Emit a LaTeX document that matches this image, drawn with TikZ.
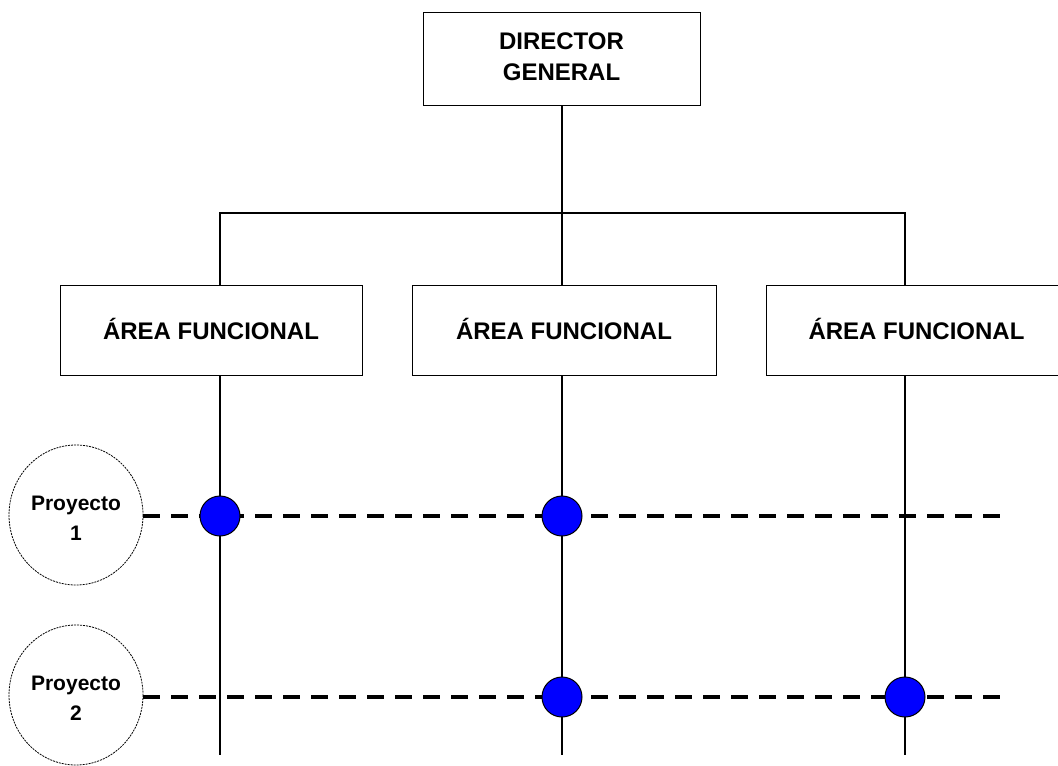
\documentclass[tikz,border=0pt]{standalone}
\usepackage{fontspec}
\setmainfont{Liberation Sans}
\usetikzlibrary{shapes.geometric}
\begin{document}
\begin{tikzpicture}[x=1pt,y=-1pt,
  box/.style={draw, line width=1pt, rectangle, inner sep=0pt, font=\bfseries\fontsize{24}{33}\selectfont, align=center},
  proj/.style={ellipse, inner sep=0pt, minimum width=134pt, minimum height=140pt, font=\bfseries\fontsize{21}{30}\selectfont, align=center},
  projline/.style={dash pattern=on 2pt off 1pt, line width=0.8pt},
  conn/.style={line width=2pt},
  dline/.style={line width=4pt, dash pattern=on 17pt off 11pt},
  dot/.style={circle, fill=blue, draw=black, line width=1pt, minimum size=40pt, inner sep=0pt}]
\useasboundingbox (0,0) rectangle (1058,766);
\fill[white] (0,0) rectangle (1058,766);
\node[box, minimum width=277pt, minimum height=93pt] (dg) at (561.5,58.5) {\raisebox{-2pt}{\begin{tabular}{@{}c@{}}DIRECTOR\\[-2pt]GENERAL\end{tabular}}};
\node[box, minimum width=302pt, minimum height=90pt] (a1) at (211,330.5) {\raisebox{3pt}{ÁREA FUNCIONAL}};
\node[box, minimum width=304pt, minimum height=90pt] (a2) at (564,330.5) {\raisebox{3pt}{ÁREA FUNCIONAL}};
\node[box, minimum width=304pt, minimum height=90pt, anchor=west] (a3) at (766,330.5) {\hspace*{-4pt}\raisebox{3pt}{ÁREA FUNCIONAL}};
\coordinate (j) at (562,213);
\coordinate (j1) at (220,213);
\coordinate (j3) at (905,213);
\draw[conn] (dg.south -| j) -- (j);
\draw[conn] (j1 |- a1.north) -- (j1) -- (j3) -- (j3 |- a3.north);
\draw[conn] (j) -- (j |- a2.north);
\coordinate (b1) at (220,755);
\coordinate (b2) at (562,755);
\coordinate (b3) at (905,755);
\draw[conn] (b1 |- a1.south) -- (b1);
\draw[conn] (b2 |- a2.south) -- (b2);
\draw[conn] (b3 |- a3.south) -- (b3);
\node[proj] (p1) at (76,518) {Proyecto\\1};
\node[proj] (p2) at (76,698) {Proyecto\\2};
\draw[projline] (76,515) ellipse (67 and 70);
\draw[projline] (76,695) ellipse (67 and 70);
\coordinate (s1) at (143,516);
\coordinate (s2) at (143,697);
\coordinate (e1) at (1000,516);
\coordinate (e2) at (1000,697);
\draw[dline] (s1) -- (e1);
\draw[dline] (s2) -- (e2);
\node[dot] (d11) at (220,516) {};
\node[dot] (d12) at (562,516) {};
\node[dot] (d22) at (562,697) {};
\node[dot] (d23) at (905,697) {};
\end{tikzpicture}
\end{document}
